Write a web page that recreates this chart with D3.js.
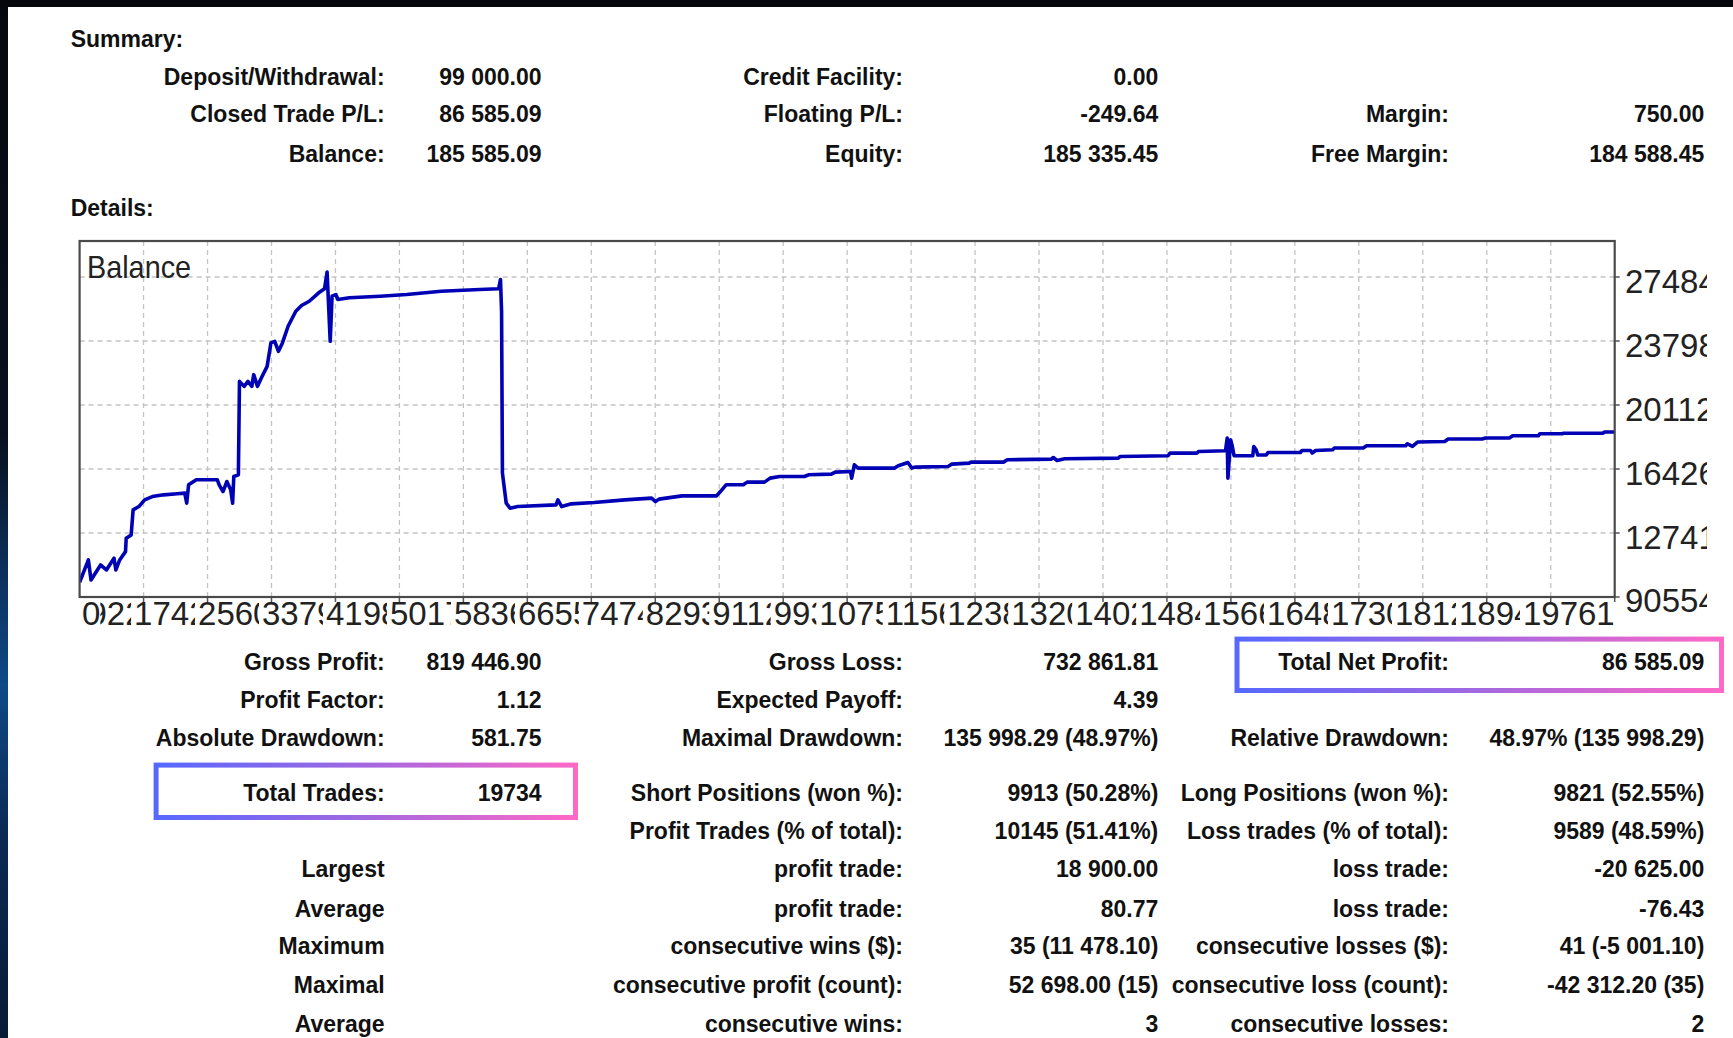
<!DOCTYPE html>
<html><head><meta charset="utf-8">
<script src="https://cdn.jsdelivr.net/npm/d3@7"></script>
<style>html,body{margin:0;padding:0;background:#fff;overflow:hidden}</style>
</head><body>
<svg id="c" width="1733" height="1038"></svg>
<script>
// ---------------- DATA ----------------
const summaryTitle = "Summary:";
const detailsTitle = "Details:";
const chartTitle = "Balance";

const summaryRows = [
  ["Deposit/Withdrawal:", "99 000.00", "Credit Facility:", "0.00", "", ""],
  ["Closed Trade P/L:", "86 585.09", "Floating P/L:", "-249.64", "Margin:", "750.00"],
  ["Balance:", "185 585.09", "Equity:", "185 335.45", "Free Margin:", "184 588.45"]
];

const detailRows = [
  ["Gross Profit:", "819 446.90", "Gross Loss:", "732 861.81", "Total Net Profit:", "86 585.09"],
  ["Profit Factor:", "1.12", "Expected Payoff:", "4.39", "", ""],
  ["Absolute Drawdown:", "581.75", "Maximal Drawdown:", "135 998.29 (48.97%)", "Relative Drawdown:", "48.97% (135 998.29)"],
  ["Total Trades:", "19734", "Short Positions (won %):", "9913 (50.28%)", "Long Positions (won %):", "9821 (52.55%)"],
  ["", "", "Profit Trades (% of total):", "10145 (51.41%)", "Loss trades (% of total):", "9589 (48.59%)"],
  ["Largest", "", "profit trade:", "18 900.00", "loss trade:", "-20 625.00"],
  ["Average", "", "profit trade:", "80.77", "loss trade:", "-76.43"],
  ["Maximum", "", "consecutive wins ($):", "35 (11 478.10)", "consecutive losses ($):", "41 (-5 001.10)"],
  ["Maximal", "", "consecutive profit (count):", "52 698.00 (15)", "consecutive loss (count):", "-42 312.20 (35)"],
  ["Average", "", "consecutive wins:", "3", "consecutive losses:", "2"]
];

const tradeNumbers = [0,113,147,270,345,443,467,516,591,600,664,689,763,837,936,1083,1255,1354,1379,1403,1502,1773,1797,1846,1896,1945,1970,1985,2044,2058,2118,2167,2217,2241,2290,2339,2414,2463,2512,2560,2611,2684,2783,2857,2956,3078,3153,3186,3202,3226,3250,3299,3325,3472,3867,4211,4655,5147,5394,5418,5432,5443,5492,5541,5640,6133,6157,6206,6330,6625,7018,7363,7414,7459,7755,8199,8249,8322,8544,8593,8816,8889,9012,9332,9382,9677,9727,9924,9938,9973,10022,10490,10539,10663,10712,10761,11179,11229,11451,11475,11893,11942,12509,12534,12583,12681,13371,13396,14011,14037,14382,14406,14751,14773,14782,14817,14839,14861,15102,15115,15145,15167,15276,15298,15714,15736,15845,15867,15911,16130,16152,16524,16568,17070,17092,17157,17223,17573,17617,18054,18098,18405,18448,18777,18799,19083,19105,19608,19630,19761];

const balanceValues = [99000,111900,100360,109010,106130,112880,106130,111900,116680,124410,126320,140740,142640,146500,148410,149390,149970,150370,144600,155160,158040,158040,155160,151290,157060,152270,144600,159940,160920,214740,211860,214740,211860,218600,211860,216700,223390,236890,237810,232040,236890,246460,255120,258400,260880,265730,268040,277700,261860,237810,263770,264750,261860,262850,263770,264750,266650,267630,268040,273400,255120,161900,144600,141720,142640,143620,146500,142640,144200,144950,146500,147480,145520,146910,148810,148810,151290,155160,155160,156710,156710,159020,159940,159940,160920,161330,162480,162830,159020,166690,164790,164790,166120,168020,164790,165370,165710,167100,167670,168250,168250,169580,169980,170900,169170,170150,170560,171480,171880,173440,173440,174360,174770,182090,159020,181110,177250,171880,171880,177250,175340,172290,172290,173790,173790,174940,174940,173440,174940,175340,176330,176330,177650,177650,178800,177250,179790,180130,181520,181520,182090,182090,183420,183420,184570,184570,184900,184900,185585,185585];

const xTickLabels = ["0","922","1742","2560","3379","4198","5017","5836","6655","7474","8293","9112","9931","10750","11569","12388","13207","14026","14845","15664","16483","17302","18121","18940","19761"];
const yTickValues = [90554,127412,164269,201127,237984,274842];

// ---------------- LAYOUT ----------------
const W = 1733, H = 1038;
const svg = d3.select("#c");
const FONT = "'Liberation Sans', Arial, sans-serif";

const defs = svg.append("defs");
const side = defs.append("linearGradient").attr("id","side").attr("x1",0).attr("y1",0).attr("x2",0).attr("y2",1);
[[0,"#06080f"],[0.42,"#08101f"],[0.55,"#0c2f5c"],[0.66,"#0e4a86"],[0.8,"#0b2a55"],[1,"#081a36"]]
  .forEach(s => side.append("stop").attr("offset",s[0]).attr("stop-color",s[1]));

svg.append("rect").attr("width",W).attr("height",H).attr("fill","#fff");
svg.append("rect").attr("x",0).attr("y",0).attr("width",8).attr("height",H).attr("fill","url(#side)");
svg.append("rect").attr("x",0).attr("y",0).attr("width",W).attr("height",7).attr("fill","#05070d");

// ---------------- TABLE TEXT ----------------
const colEnds = [384.6, 541.6, 903, 1158.3, 1449, 1704.3];
const tfont = 23;
function textRow(rows, centers){
  rows.forEach((r,i)=>{
    r.forEach((t,j)=>{
      if(!t) return;
      svg.append("text").attr("x",colEnds[j]).attr("y",centers[i]+8.3)
        .attr("text-anchor","end").attr("font-family",FONT).attr("font-weight","bold")
        .attr("font-size",tfont).attr("fill","#111").text(t);
    });
  });
}
svg.append("text").attr("x",70.7).attr("y",38.7+8.3).attr("font-family",FONT).attr("font-weight","bold")
  .attr("font-size",tfont).attr("fill","#111").text(summaryTitle);
svg.append("text").attr("x",70.7).attr("y",207.8+8.3).attr("font-family",FONT).attr("font-weight","bold")
  .attr("font-size",tfont).attr("fill","#111").text(detailsTitle);
textRow(summaryRows, [76.3, 113.8, 153.6]);
textRow(detailRows, [662, 699.6, 737.2, 792.5, 831, 868.7, 908.5, 946, 984.8, 1023.4]);

// ---------------- CHART ----------------
const L = 79.6, R = 1614.7, T = 241, B = 597;
const x = d3.scaleLinear().domain([0, 19761]).range([L, R]);
const y = d3.scaleLinear().domain([yTickValues[0], yTickValues[yTickValues.length-1]]).range([B, 277]);
const xp = d3.scalePoint().domain(xTickLabels).range([L, R]);

const g = svg.append("g");
g.append("rect").attr("x",L).attr("y",T).attr("width",R-L).attr("height",B-T).attr("fill","#fff");

// grid
g.selectAll(".hg").data(yTickValues.slice(1)).enter().append("line")
  .attr("x1",L).attr("x2",R).attr("y1",d=>y(d)).attr("y2",d=>y(d))
  .attr("stroke","#c4c4c4").attr("stroke-width",1.3).attr("stroke-dasharray","5,4");
g.selectAll(".vg").data(xTickLabels.slice(1, -1)).enter().append("line")
  .attr("x1",d=>xp(d)).attr("x2",d=>xp(d)).attr("y1",T).attr("y2",B)
  .attr("stroke","#c4c4c4").attr("stroke-width",1.3).attr("stroke-dasharray","5,4");

// ticks
g.selectAll(".xt").data(xTickLabels.slice(1)).enter().append("line")
  .attr("x1",d=>xp(d)).attr("x2",d=>xp(d)).attr("y1",B).attr("y2",B+5)
  .attr("stroke","#555").attr("stroke-width",1.5);
g.selectAll(".yt").data(yTickValues).enter().append("line")
  .attr("x1",R).attr("x2",R+5).attr("y1",d=>y(d)).attr("y2",d=>y(d))
  .attr("stroke","#555").attr("stroke-width",1.5);

// line
defs.append("clipPath").attr("id","plot").append("rect").attr("x",L).attr("y",T).attr("width",R-L).attr("height",B-T);
const pts = tradeNumbers.map((t,i)=>[t, balanceValues[i]]);
g.append("path").datum(pts).attr("clip-path","url(#plot)")
  .attr("d", d3.line().x(d=>x(d[0])).y(d=>y(d[1])))
  .attr("fill","none").attr("stroke","#0000b4").attr("stroke-width",3.6).attr("stroke-linejoin","round");

// frame
g.append("rect").attr("x",L).attr("y",T).attr("width",R-L).attr("height",B-T)
  .attr("fill","none").attr("stroke","#4a4a4a").attr("stroke-width",2.2);

// title
g.append("text").attr("transform",`translate(87,278) scale(0.9,1)`)
  .attr("font-family",FONT).attr("font-size",32).attr("fill","#222").text(chartTitle);

// x labels: right-aligned at their ticks; each one hides what lies under the next one
const axisFS = 33, labelBase = 625;
const xlG = g.append("g");
const xl = xTickLabels.map((lbl,k)=>{
  const t = xlG.append("text").attr("font-family",FONT).attr("font-size",axisFS).attr("fill","#222")
    .attr("y",labelBase).text(lbl);
  const w = t.node().getComputedTextLength();
  const x0 = k === 0 ? xp(lbl) + 2.4 : xp(lbl) - w;
  t.attr("x", x0);
  return {t, x0, w};
});
xl.forEach((o,k)=>{
  let from = o.x0 - 3, to;
  if(k === 0){ to = o.x0 + o.w; }
  else if(k === 1){ from = xl[0].x0 + xl[0].w; to = xl[2].x0 - 3; }
  else if(k < xl.length - 1){ to = xl[k+1].x0 - 3; }
  else { to = R + 4; }
  const id = "xl" + k;
  defs.append("clipPath").attr("id",id).append("rect")
    .attr("x",from).attr("y",598).attr("width",Math.max(0,to-from)).attr("height",40);
  o.t.attr("clip-path",`url(#${id})`);
});

// y labels, clipped at the picture edge
defs.append("clipPath").attr("id","yclip").append("rect").attr("x",R+1).attr("y",T-20).attr("width",1707-R-1).attr("height",420);
const yl = g.append("g").attr("clip-path","url(#yclip)");
yl.selectAll("text").data(yTickValues).enter().append("text")
  .attr("x",1625).attr("y",(d,i)=> i===0 ? B+15 : y(d)+16)
  .attr("font-family",FONT).attr("font-size",axisFS).attr("fill","#222").text(d=>d);

// ---------------- HIGHLIGHT BOXES ----------------
function box(id, x0, y0, x1, y1){
  const lg = defs.append("linearGradient").attr("id",id).attr("gradientUnits","userSpaceOnUse")
    .attr("x1",x0).attr("x2",x1).attr("y1",0).attr("y2",0);
  lg.append("stop").attr("offset",0).attr("stop-color","#5668ff");
  lg.append("stop").attr("offset",0.5).attr("stop-color","#a368e0");
  lg.append("stop").attr("offset",1).attr("stop-color","#ff68c6");
  svg.append("rect").attr("x",x0+2.5).attr("y",y0+2.5).attr("width",x1-x0-5).attr("height",y1-y0-5)
    .attr("fill","none").attr("stroke",`url(#${id})`).attr("stroke-width",5);
}
box("gb1", 1234.5, 636.6, 1724, 693);
box("gb2", 153.6, 762.6, 578, 820);
</script>
</body></html>
